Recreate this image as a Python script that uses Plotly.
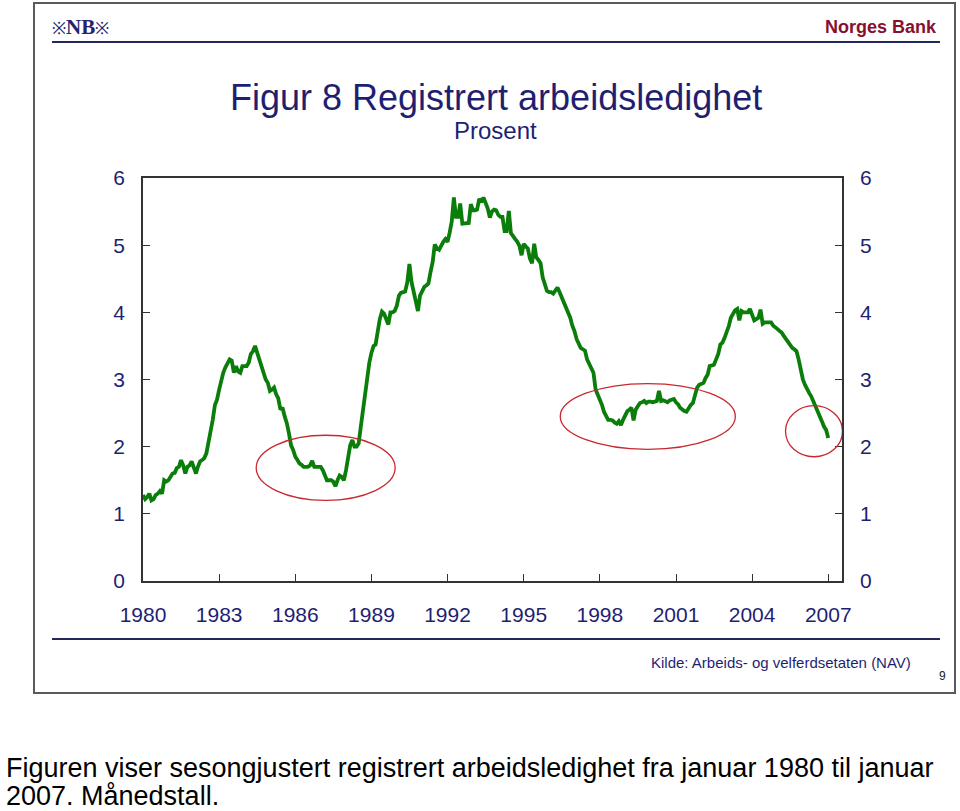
import plotly.graph_objects as go
import pandas as pd

# Registered unemployment, seasonally adjusted, percent (monthly, Jan 1980 - Jan 2007)
rate_1980s = [
    1.28, 1.22, 1.25, 1.30, 1.20, 1.22, 1.28, 1.30, 1.34, 1.30, 1.50, 1.48,  # 1980
    1.50, 1.57, 1.60, 1.61, 1.68, 1.70, 1.80, 1.72, 1.60, 1.70, 1.72, 1.78,  # 1981
    1.70, 1.60, 1.70, 1.78, 1.80, 1.83, 1.90, 2.05, 2.22, 2.40, 2.62, 2.70,  # 1982
    2.85, 3.00, 3.10, 3.18, 3.25, 3.30, 3.28, 3.10, 3.20, 3.12, 3.10, 3.20,  # 1983
    3.20, 3.20, 3.25, 3.38, 3.42, 3.50, 3.40, 3.30, 3.20, 3.10, 3.00, 2.95,  # 1984
    2.83, 2.85, 2.88, 2.78, 2.72, 2.55, 2.58, 2.45, 2.35, 2.20, 2.02, 1.95,  # 1985
    1.85, 1.80, 1.75, 1.73, 1.70, 1.70, 1.70, 1.72, 1.79, 1.70, 1.70, 1.70,  # 1986
    1.70, 1.65, 1.58, 1.50, 1.50, 1.50, 1.48, 1.41, 1.50, 1.57, 1.55, 1.50,  # 1987
    1.65, 1.85, 2.02, 2.10, 2.00, 2.00, 2.05, 2.30, 2.55, 2.75, 3.05, 3.25,  # 1988
    3.40, 3.50, 3.52, 3.75, 3.90, 4.01, 3.98, 3.90, 3.82, 4.00, 4.00, 4.02,  # 1989
]
rate_1990s = [
    4.10, 4.25, 4.29, 4.30, 4.31, 4.45, 4.72, 4.45, 4.30, 4.20, 4.02, 4.25,  # 1990
    4.33, 4.38, 4.40, 4.43, 4.60, 4.75, 5.01, 4.95, 4.93, 5.00, 5.05, 5.09,  # 1991
    5.05, 5.19, 5.35, 5.71, 5.42, 5.42, 5.62, 5.32, 5.32, 5.32, 5.33, 5.61,  # 1992
    5.52, 5.52, 5.53, 5.69, 5.64, 5.71, 5.62, 5.55, 5.41, 5.50, 5.53, 5.52,  # 1993
    5.45, 5.42, 5.42, 5.21, 5.21, 5.51, 5.18, 5.12, 5.09, 5.05, 4.99, 4.85,  # 1994
    5.02, 4.98, 4.95, 4.80, 4.73, 5.02, 4.82, 4.78, 4.73, 4.52, 4.40, 4.32,  # 1995
    4.30, 4.30, 4.28, 4.32, 4.37, 4.30, 4.22, 4.15, 4.05, 3.98, 3.92, 3.80,  # 1996
    3.72, 3.60, 3.52, 3.47, 3.45, 3.43, 3.30, 3.22, 3.15, 3.10, 2.85, 2.78,  # 1997
    2.70, 2.62, 2.52, 2.45, 2.40, 2.40, 2.39, 2.36, 2.34, 2.38, 2.32, 2.40,  # 1998
    2.48, 2.53, 2.55, 2.58, 2.39, 2.55, 2.60, 2.65, 2.66, 2.68, 2.65, 2.67,  # 1999
]
rate_2000s = [
    2.67, 2.66, 2.67, 2.68, 2.83, 2.68, 2.69, 2.67, 2.66, 2.69, 2.70, 2.71,  # 2000
    2.66, 2.63, 2.58, 2.55, 2.53, 2.52, 2.58, 2.62, 2.65, 2.78, 2.88, 2.92,  # 2001
    2.94, 2.95, 3.02, 3.07, 3.20, 3.21, 3.22, 3.30, 3.38, 3.52, 3.55, 3.62,  # 2002
    3.70, 3.80, 3.92, 3.98, 4.03, 4.05, 3.88, 4.02, 4.00, 4.00, 4.00, 4.05,  # 2003
    3.95, 3.88, 3.90, 3.92, 4.04, 3.83, 3.85, 3.85, 3.84, 3.85, 3.80, 3.78,  # 2004
    3.75, 3.72, 3.70, 3.65, 3.60, 3.55, 3.50, 3.47, 3.45, 3.42, 3.30, 3.15,  # 2005
    3.00, 2.92, 2.85, 2.80, 2.75, 2.68, 2.60, 2.55, 2.48, 2.38, 2.30, 2.25,  # 2006
    2.13,                                                                    # 2007
]
tick_years = [1980, 1983, 1986, 1989, 1992, 1995, 1998, 2001, 2004, 2007]
y_ticks = [0, 1, 2, 3, 4, 5, 6]

values = rate_1980s + rate_1990s + rate_2000s
dates = pd.date_range("1980-01-01", periods=len(values), freq="MS")

NAVY = "#1f1f72"
GREEN = "#0a7d0a"
RED = "#c8282e"
AXIS = "#333333"

# plot-area pixel geometry
PL, PR, PT, PB = 143, 842, 178, 581
W, H = 960, 811


def px(x):
    return (x - PL) / (PR - PL)


def py(y):
    return (PB - y) / (PB - PT)


fig = go.Figure()
fig.add_trace(go.Scatter(x=dates, y=values, mode="lines",
                         line=dict(color=GREEN, width=3.8),
                         showlegend=False, hoverinfo="skip"))
fig.add_trace(go.Scatter(x=dates, y=values, mode="lines", yaxis="y2",
                         line=dict(color=GREEN, width=0), opacity=0,
                         showlegend=False, hoverinfo="skip"))

tick_font = dict(family="Liberation Sans, Arial, sans-serif", size=21, color=NAVY)

fig.update_layout(
    width=W, height=H,
    margin=dict(l=PL, r=W - PR, t=PT, b=H - PB, pad=0),
    paper_bgcolor="white", plot_bgcolor="white",
    xaxis=dict(
        type="date",
        range=["1980-01-01", "2007-07-18"],
        tickvals=[f"{y}-01-01" for y in tick_years],
        ticktext=[str(y) for y in tick_years],
        ticks="inside", ticklen=7, tickwidth=1.2, tickcolor=AXIS,
        showline=True, linecolor=AXIS, linewidth=1.5, mirror=True,
        showgrid=False, zeroline=False,
        tickfont=tick_font, ticklabelstandoff=14,
    ),
    yaxis=dict(
        range=[0, 6], tickvals=y_ticks,
        ticks="inside", ticklen=7, tickwidth=1.2, tickcolor=AXIS,
        showline=True, linecolor=AXIS, linewidth=1.5,
        showgrid=False, zeroline=False,
        tickfont=tick_font, ticklabelstandoff=12,
    ),
    yaxis2=dict(
        range=[0, 6], tickvals=y_ticks, overlaying="y", side="right",
        ticks="inside", ticklen=7, tickwidth=1.2, tickcolor=AXIS,
        showline=True, linecolor=AXIS, linewidth=1.5,
        showgrid=False, zeroline=False,
        tickfont=tick_font, ticklabelstandoff=12,
    ),
)

# highlight ellipses (in data coordinates)
ellipses = [
    ("1984-06-17", "1989-12-08", 1.20, 2.17),
    ("1996-06-10", "2003-05-05", 1.96, 2.94),
    ("2005-04-26", "2007-07-25", 1.85, 2.61),
]
for x0, x1, y0, y1 in ellipses:
    fig.add_shape(type="circle", xref="x", yref="y", x0=x0, x1=x1, y0=y0, y1=y1,
                  line=dict(color=RED, width=1.3), layer="above")

# slide frame and rules
fig.add_shape(type="rect", xref="paper", yref="paper",
              x0=px(34), x1=px(955), y0=py(693), y1=py(3),
              line=dict(color="#5a5a5a", width=2))
fig.add_shape(type="line", xref="paper", yref="paper",
              x0=px(52), x1=px(940), y0=py(42), y1=py(42),
              line=dict(color="#26265e", width=2))
fig.add_shape(type="line", xref="paper", yref="paper",
              x0=px(52), x1=px(940), y0=py(639), y1=py(639),
              line=dict(color="#26265e", width=2))


def note(text, x, y, size, color, xanchor="center", family="Liberation Sans, Arial, sans-serif"):
    fig.add_annotation(text=text, x=px(x), y=py(y), xref="paper", yref="paper",
                       xanchor=xanchor, yanchor="middle", showarrow=False,
                       font=dict(family=family, size=size, color=color))


note("<span style='font-size:17px'>※</span><b>NB</b><span style='font-size:17px'>※</span>",
     50, 27, 21, "#23236e", xanchor="left",
     family="Liberation Serif, DejaVu Serif, serif")
note("<b>Norges Bank</b>", 939, 27, 18, "#86102e", xanchor="right")
note("Figur 8 Registrert arbeidsledighet", 496, 97, 36, NAVY)
note("Prosent", 496, 131, 24, NAVY)
note("Kilde: Arbeids- og velferdsetaten (NAV)", 913, 662, 15, NAVY, xanchor="right")
note("9", 942, 676, 12, "#222222")
note("Figuren viser sesongjustert registrert arbeidsledighet fra januar 1980 til januar",
     4, 768, 27, "#000000", xanchor="left")
note("2007. Månedstall.", 4, 796, 27, "#000000", xanchor="left")

fig.write_html("out.html", config={"displayModeBar": False},
               post_script="document.body.style.margin='0';document.body.style.overflow='hidden';")
